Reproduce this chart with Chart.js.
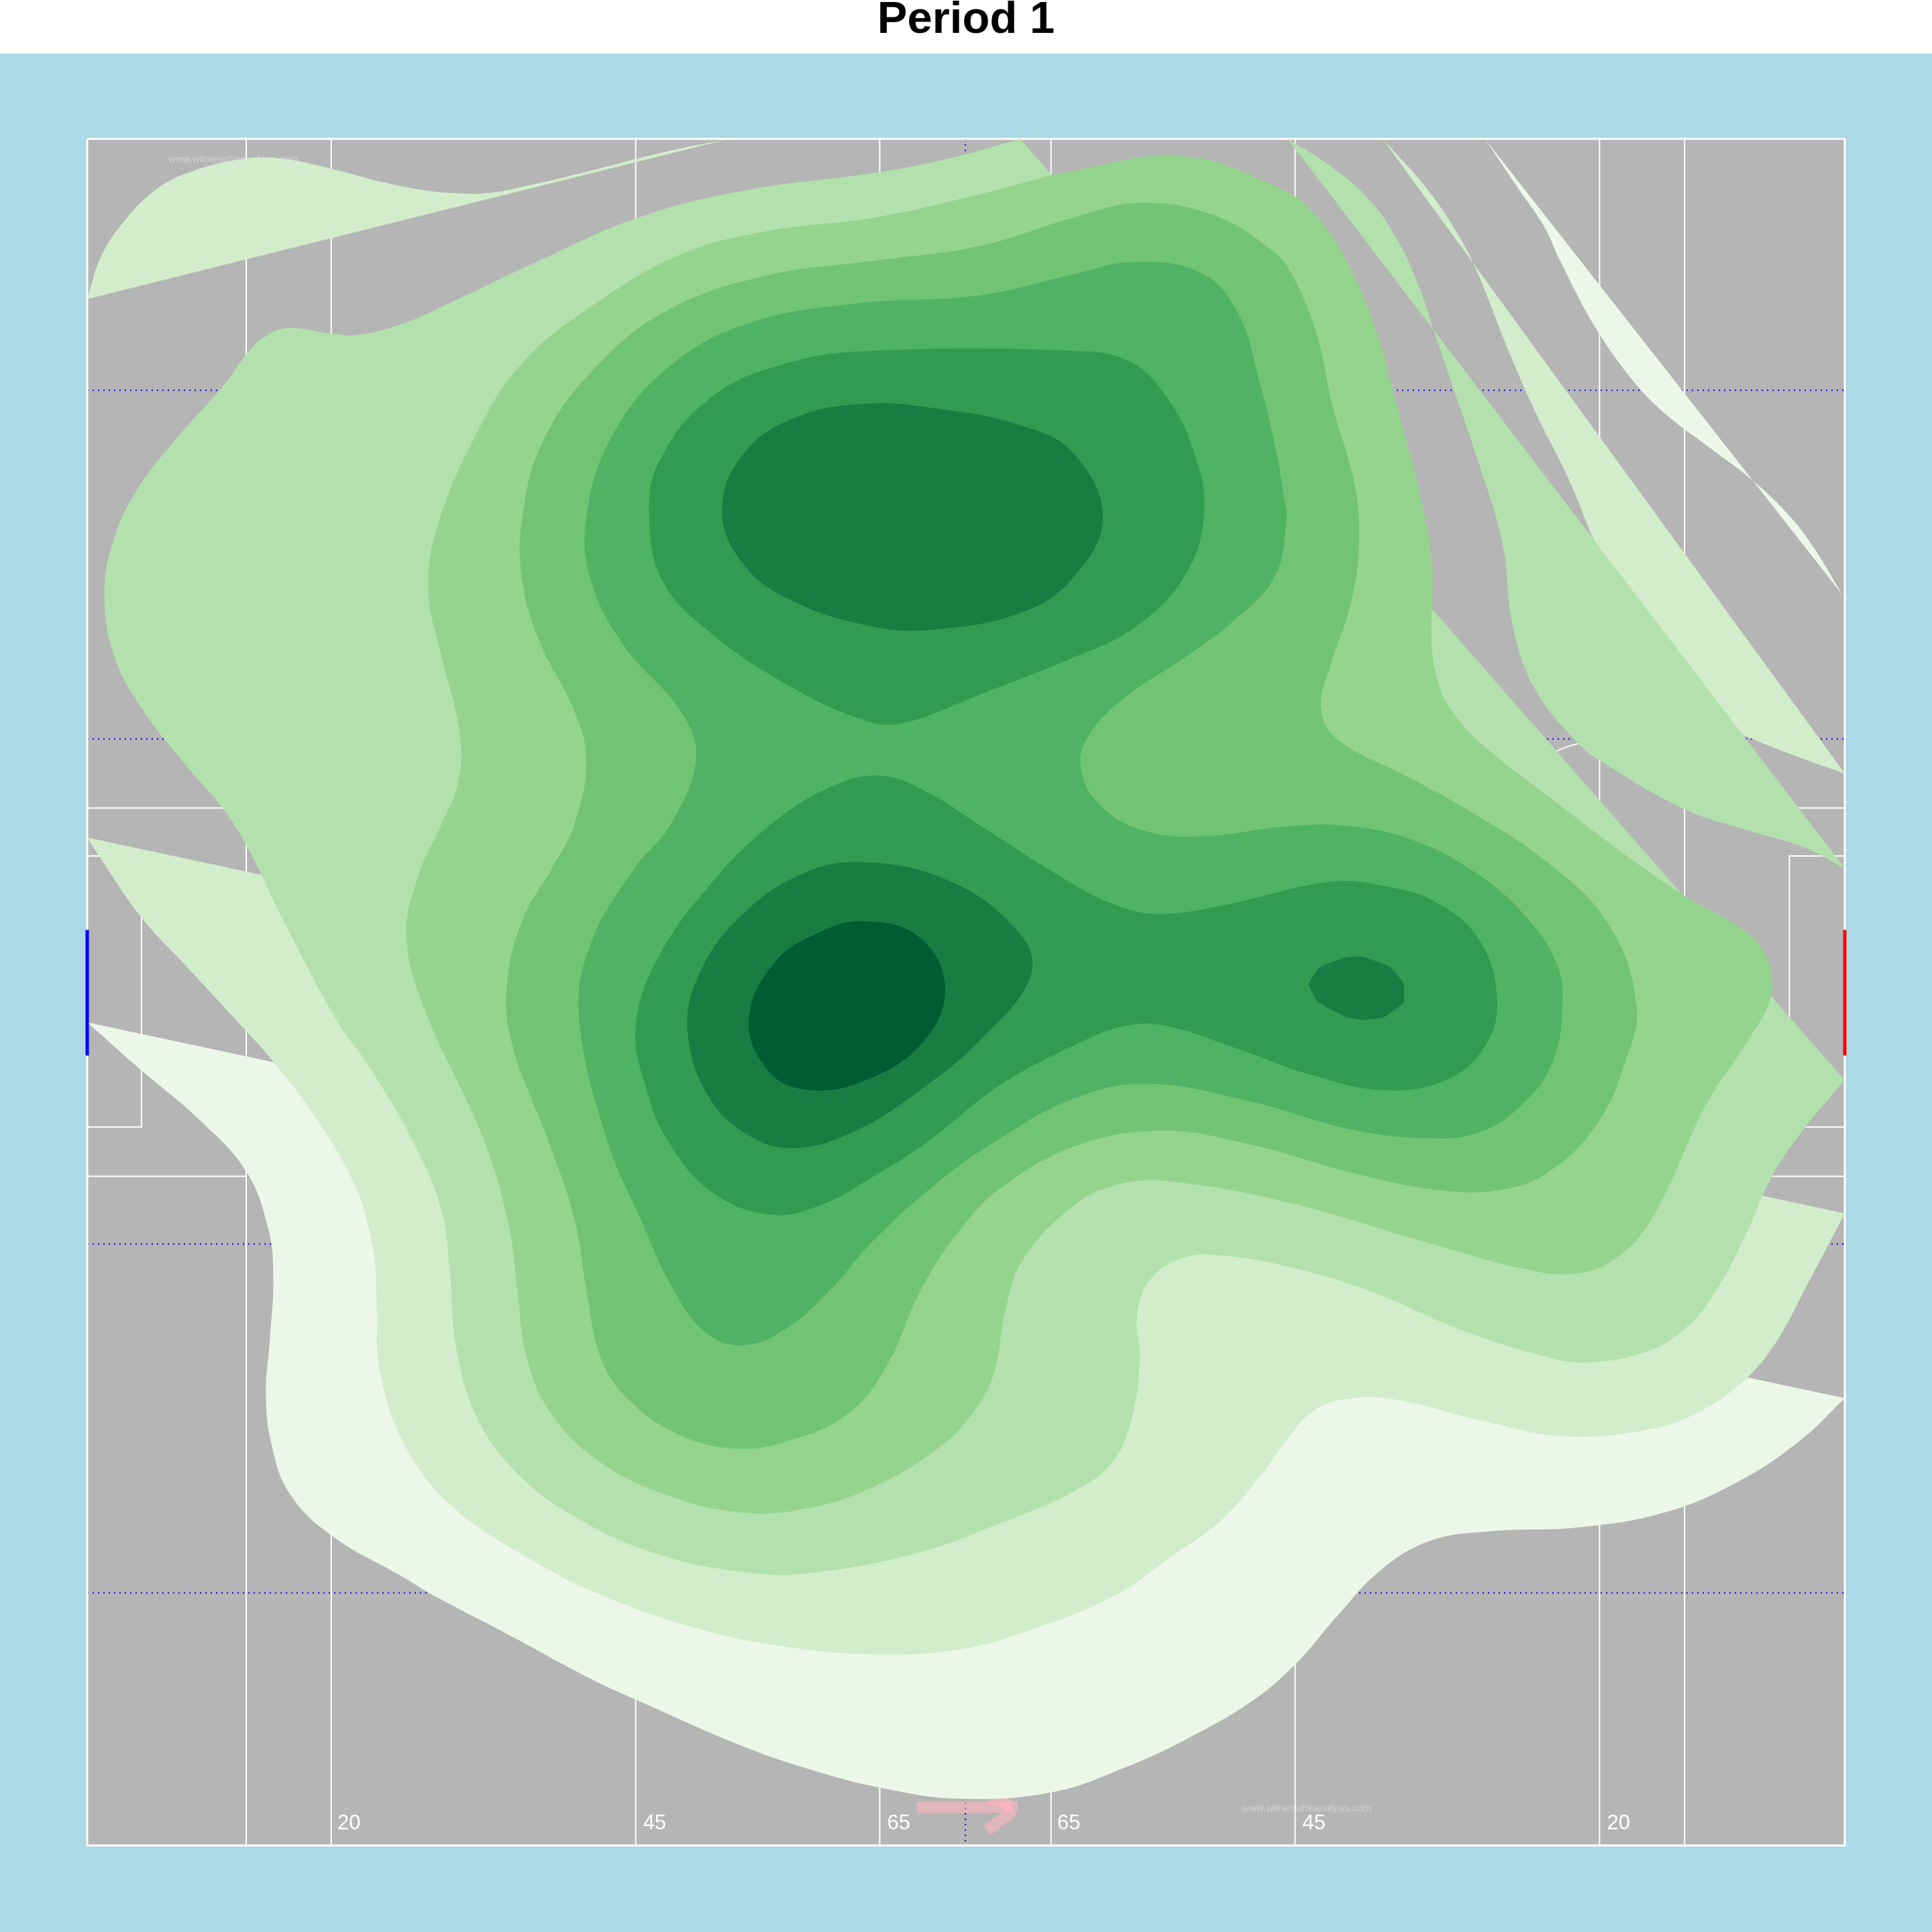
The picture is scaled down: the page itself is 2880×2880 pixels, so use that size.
<!DOCTYPE html>
<html><head><meta charset="utf-8">
<style>html,body{margin:0;padding:0;background:#fff}canvas{display:block}</style>
<script src="https://cdn.jsdelivr.net/npm/chart.js@4"></script></head>
<body><canvas id="c" width="2880" height="2880"></canvas>
<script>
const titleText = "Period 1";
const level1Main = [[71,830],[115,869],[163,910],[200,951],[218,998],[222,1037],[219,1090],[216,1130],[220,1170],[235,1212],[270,1247],[327,1280],[350,1294],[413,1327],[480,1363],[517,1380],[604,1418],[660,1437],[714,1451],[778,1460],[853,1455],[910,1436],[970,1408],[1020,1378],[1055,1347],[1085,1312],[1120,1275],[1160,1251],[1210,1243],[1280,1240],[1350,1228],[1410,1203],[1460,1170],[1497,1135]];
const level1Sliver = [[1205,113],[1234,156],[1253,184],[1266,212],[1294,265],[1325,309],[1350,335],[1385,362],[1422,390],[1453,420],[1472,445],[1495,483]];
const level2Main = [[71,680],[78,691],[115,745],[150,783],[200,837],[222,862],[254,904],[288,962],[303,1015],[306,1062],[308,1110],[327,1170],[365,1221],[431,1266],[493,1297],[570,1323],[639,1337],[709,1343],[778,1339],[840,1322],[905,1295],[950,1264],[990,1235],[1023,1198],[1048,1164],[1065,1146],[1090,1136],[1131,1136],[1201,1153],[1270,1166],[1340,1160],[1379,1146],[1416,1120],[1441,1090],[1466,1044],[1497,985]];
const level2TopLeft = [[71,243],[82,209],[100,181],[127,154],[157,139],[200,129],[228,129],[268,137],[310,148],[346,155],[367,157],[396,157],[433,150],[475,140],[540,123.5],[592,113]];
const level2TopRight = [[1122,113],[1156,151],[1181,187],[1197,217],[1225,287],[1247,337],[1272,387],[1294,440],[1330,520],[1380,580],[1415,597],[1460,615],[1497,628]];
const level3Main = [[828,113],[778,127],[714,140],[604,155],[518,177],[431,215],[372,243],[327,263],[291,272],[268,271],[244,267],[230,267],[218,272],[205,282],[180,315],[140,360],[110,400],[92,440],[85,480],[92,530],[115,575],[155,626],[180,655],[200,686],[229,745],[272,826],[299,865],[335,926],[358,981],[365,1030],[370,1092],[386,1148],[417,1193],[466,1231],[535,1262],[611,1277],[657,1277],[743,1261],[813,1236],[871,1211],[902,1188],[918,1153],[925,1105],[923,1066],[935,1037],[961,1021],[989,1019],[1045,1028],[1114,1049],[1184,1079],[1253,1101],[1288,1106],[1337,1097],[1367,1079],[1390,1052],[1416,1004],[1438,955],[1465,915],[1497,877]];
const level3TopRight = [[1045,113],[1078,134],[1109,160],[1134,195],[1153,237],[1164,270],[1181,320],[1200,376],[1219,440],[1228,510],[1246,560],[1279,602],[1299,618],[1367,657],[1418,674],[1464,688],[1497,705]];
const level4 = [[960,127],[1034,151],[1066,173],[1097,220],[1119,276],[1131,320],[1153,404],[1162,459],[1162,526],[1168,557],[1176,574],[1199,601],[1245,638],[1357,721],[1415,755],[1432,774],[1438,796],[1435,816],[1415,850],[1385,896],[1340,990],[1309,1023],[1277,1034],[1236,1030],[1149,1006],[1045,976],[948,959],[906,962],[871,979],[830,1023],[816,1064],[806,1117],[788,1149],[761,1176],[709,1207],[657,1224],[604,1228],[542,1214],[483,1184],[445,1144],[427,1099],[420,1047],[413,995],[393,926],[345,820],[330,760],[340,710],[358,670],[372,635],[373,594],[358,531],[348,483],[354,431],[386,354],[424,295],[483,247],[552,207],[622,188],[709,177],[795,158],[871,139],[960,127]];
const level5 = [[925,165],[985,175],[1034,205],[1050,226],[1069,273],[1081,328],[1099,392],[1103,437],[1097,487],[1080,540],[1072,575],[1085,600],[1143,631],[1185,654],[1253,698],[1305,750],[1328,816],[1319,862],[1295,914],[1256,952],[1218,966],[1166,966],[1097,952],[1010,928],[940,918],[871,931],[813,964],[782,995],[749,1044],[719,1110],[688,1148],[639,1170],[597,1176],[552,1165],[511,1137],[488,1103],[476,1047],[466,988],[445,926],[415,845],[412,795],[425,745],[448,705],[466,670],[476,618],[466,577],[438,521],[424,472],[424,420],[441,358],[483,299],[542,252],[622,224],[709,212],[795,200],[871,177],[925,165]];
const level6 = [[920,213],[975,222],[1005,255],[1022,310],[1034,359],[1042,403],[1044,423],[1034,469],[1000,505],[960,535],[915,565],[885,595],[877,622],[892,653],[927,674],[975,679],[1045,671],[1097,671],[1149,683],[1201,711],[1239,745],[1263,782],[1268,816],[1260,862],[1236,896],[1201,919],[1159,924],[1097,917],[1010,893],[930,880],[871,892],[809,926],[761,960],[709,1007],[674,1047],[639,1078],[604,1092],[573,1082],[545,1044],[521,992],[493,926],[470,825],[480,765],[515,705],[544,670],[565,615],[552,577],[507,525],[480,472],[476,420],[497,354],[542,299],[604,264],[691,247],[795,240],[871,223],[920,213]];
const level7Upper = [[708,285],[871,285],[915,293],[945,320],[970,370],[977,420],[960,470],[920,510],[871,534],[795,564],[733,587],[702,585],[639,556],[577,514],[538,472],[527,420],[535,375],[577,323],[639,295],[708,285]];
const level7Lower = [[715,630],[674,639],[625,670],[575,720],[533,780],[516,835],[525,885],[542,926],[577,967],[625,986],[667,978],[709,955],[754,926],[810,882],[871,849],[913,833],[947,833],[1003,851],[1062,872],[1124,885],[1173,877],[1204,851],[1215,813],[1201,764],[1166,733],[1121,719],[1079,716],[993,735],[940,742],[906,735],[871,718],[795,670],[754,644],[715,630]];
const level8Upper = [[586,413],[604,368],[646,339],[702,328],[761,332],[830,346],[871,368],[895,420],[871,469],[830,497],[761,511],[709,509],[639,486],[601,455],[586,413]];
const level8Lower = [[700,700],[650,710],[600,745],[568,790],[558,835],[575,890],[610,923],[646,932],[690,920],[740,890],[800,840],[837,790],[825,755],[770,715],[700,700]];
const level8Right = [[1062,799],[1071,785],[1093,777],[1107,777],[1128,785],[1139,798],[1139,814],[1123,826],[1107,828],[1093,826],[1069,813],[1062,799]];
const level9 = [[700,748],[745,760],[767,800],[750,845],[700,878],[650,884],[620,865],[608,825],[630,780],[665,757],[700,748]];
const levelColours = ["#EDF7E9","#D2EDCB","#B3E1AD","#95D48F","#72C475","#4FB264","#339A52","#1A7C42","#005C33"];
const verticalLines = [200,269,516,714,853,1051,1298,1367];
const boxLinesLeft = [[[71,656],[200,656]],[[71,955],[200,955]],[[71,695],[115,695],[115,915],[71,915]]];
const boxLinesRight = [[[1367,656],[1497,656]],[[1367,955],[1497,955]],[[1497,695],[1452,695],[1452,915],[1497,915]]];
const arcRight = [[1298,602],[1280,604],[1263,610],[1240,624]];
const dottedRows = [317,600,1010,1293];
const dottedColumn = 783.5;
const pitchLabels = ["20","45","65","65","45","20"];
const pitchLabelX = [274,522,720,858,1057,1304];
const pitchLabelY = 1480.5;
const watermarkText = "www.witnesstheanalysis.com";
const watermarkSpots = [[137,130],[1008,1468]];
const arrowShaft = [[744,1467],[826,1467]];
const arrowBarbUpper = [[804,1459],[822,1467]];
const arrowBarbLower = [[822,1470],[801,1486]];
const goalY = [755,857];

const pts = a => a.map(p => ({x:p[0],y:p[1]}));
const paint = [];
const stroke = (a,color,width,extra) => paint.push(Object.assign({data:pts(a),showLine:true,pointRadius:0,borderColor:color,borderWidth:width,tension:0,fill:false,clip:false},extra||{}));
const shape = (a,i,t) => paint.push({data:pts(a),showLine:true,pointRadius:0,borderWidth:0,borderColor:"rgba(0,0,0,0)",backgroundColor:levelColours[i],tension:t===undefined?0.4:t,fill:"shape"});
// closed contours: wrap one vertex each way so the curve runs smoothly through its start
const closed = (a,i,t) => shape([a[a.length-2]].concat(a,[a[1]]),i,t);

verticalLines.forEach(x => stroke([[x,113],[x,1498]],"#FFFFFF",2));
boxLinesLeft.concat(boxLinesRight).forEach(l => stroke(l,"#FFFFFF",2));
stroke(arcRight,"#FFFFFF",2,{tension:0.3});
dottedRows.forEach(y => stroke([[71,y],[1497,y]],"#0000FF",2,{borderDash:[2,6]}));
stroke([[dottedColumn,113],[dottedColumn,1498]],"#0000FF",2,{borderDash:[2,6]});
stroke([[71,113],[1497,113],[1497,1498],[71,1498],[71,113]],"#FFFFFF",3);
[arrowShaft,arrowBarbUpper,arrowBarbLower].forEach(a => stroke(a,"rgba(255,182,193,0.6)",17));
shape(level1Main,0); shape(level1Sliver,0);
shape(level2Main,1); shape(level2TopLeft,1); shape(level2TopRight,1);
shape(level3Main,2); shape(level3TopRight,2);
closed(level4,3); closed(level5,4); closed(level6,5);
closed(level7Upper,6); closed(level7Lower,6);
closed(level8Upper,7); closed(level8Lower,7); closed(level8Right,7,0.1);
closed(level9,8);
stroke([[71,goalY[0]],[71,goalY[1]]],"#0000FF",5);
stroke([[1497,goalY[0]],[1497,goalY[1]]],"#FF0000",5);

const backdrop = {
  id:"backdrop",
  beforeDraw(chart){
    const {ctx,chartArea:a} = chart;
    ctx.save();
    ctx.fillStyle="#FFFFFF"; ctx.fillRect(0,0,2880,2880);
    ctx.fillStyle="#ADD8E6"; ctx.fillRect(0,80,2880,2800);
    ctx.fillStyle="#B5B5B5"; ctx.fillRect(a.left,a.top,a.right-a.left,a.bottom-a.top);
    ctx.restore();
  },
  beforeDatasetsDraw(chart){
    const {ctx,scales:{x,y}} = chart;
    ctx.save();
    ctx.textBaseline="middle"; ctx.textAlign="left";
    ctx.font="31px 'Liberation Sans'"; ctx.fillStyle="#FFFFFF";
    pitchLabels.forEach((t,i)=>ctx.fillText(t,x.getPixelForValue(pitchLabelX[i]),y.getPixelForValue(pitchLabelY)));
    ctx.font="15px 'Liberation Sans'"; ctx.fillStyle="#D0D0D0";
    watermarkSpots.forEach(p=>ctx.fillText(watermarkText,x.getPixelForValue(p[0]),y.getPixelForValue(p[1])));
    ctx.restore();
  }
};

new Chart(document.getElementById("c"),{
  type:"scatter",
  data:{datasets:paint.slice().reverse()},
  plugins:[backdrop],
  options:{
    responsive:false,animation:false,devicePixelRatio:1,
    layout:{padding:{left:130,right:130,top:0,bottom:129}},
    plugins:{
      legend:{display:false},tooltip:{enabled:false},
      title:{display:true,text:titleText,color:"#000000",font:{family:"'Liberation Sans'",size:67,weight:"bold",lineHeight:0.91},padding:{top:0,bottom:146}}
    },
    scales:{
      x:{type:"linear",min:71,max:1497,display:false},
      y:{type:"linear",min:113,max:1498,reverse:true,display:false}
    }
  }
});
</script></body></html>
